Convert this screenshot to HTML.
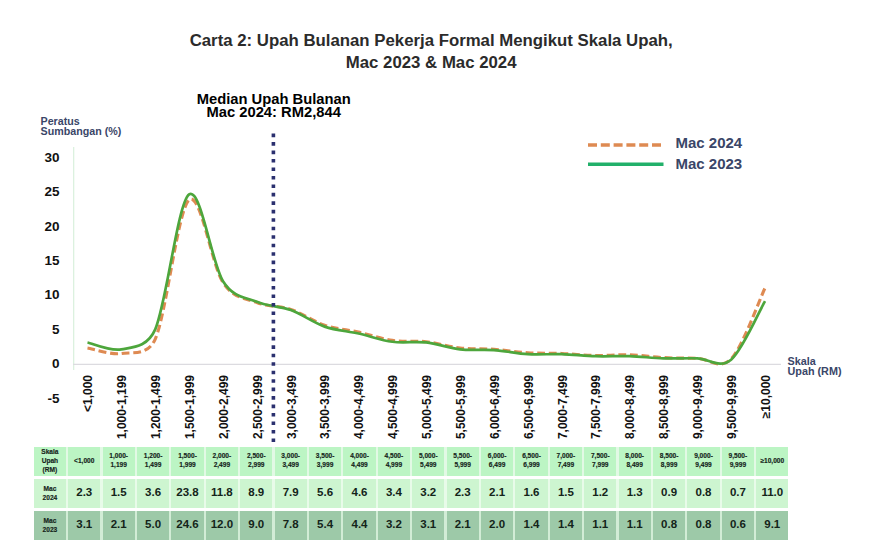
<!DOCTYPE html>
<html><head><meta charset="utf-8"><style>
html,body{margin:0;padding:0;background:#fff;}
body{width:871px;height:552px;position:relative;overflow:hidden;font-family:"Liberation Sans", sans-serif;}
.a{position:absolute;white-space:nowrap;}
.t{font-weight:bold;color:#2b2b2b;font-size:16.8px;line-height:22.2px;text-align:center;left:131.2px;width:600px;}
.med{font-weight:bold;color:#000;font-size:14.75px;line-height:13.8px;text-align:center;left:173.7px;width:200px;}
.nv{color:#3a4668;font-weight:bold;}
.yl{font-weight:bold;color:#111;font-size:13.5px;line-height:14px;text-align:right;width:40px;left:19.5px;}
.xl{font-size:12px;line-height:12px;font-weight:bold;color:#111;transform-origin:0 0;text-align:right;width:80px;}
.c{position:absolute;display:flex;padding-bottom:3.2px;box-sizing:border-box;align-items:center;justify-content:center;text-align:center;color:#14241a;font-weight:bold;}
.h{background:#bcf5c4;font-size:6.6px;line-height:9.1px;padding-bottom:2.4px;}
.r2{background:#cdf5d0;font-size:11.5px;}
.r3{background:#9dc9a8;font-size:11.5px;}
.lab{font-size:6.6px;line-height:9px;padding-bottom:1.4px;}
.h.lab{padding-bottom:1.6px;line-height:9.2px;}
.h,.lab{-webkit-text-stroke:0.15px #14241a;}
</style></head><body>

<div class="a t" style="top:29.8px;">Carta 2: Upah Bulanan Pekerja Formal Mengikut Skala Upah,<br>Mac 2023 &amp; Mac 2024</div>
<div class="a med" style="top:92.5px;">Median Upah Bulanan<br>Mac 2024: RM2,844</div>
<div class="a nv" style="left:40.5px;top:116.2px;font-size:10.7px;line-height:10.3px;">Peratus<br>Sumbangan (%)</div>
<div class="a yl" style="top:150.6px;">30</div>
<div class="a yl" style="top:185.0px;">25</div>
<div class="a yl" style="top:219.5px;">20</div>
<div class="a yl" style="top:253.9px;">15</div>
<div class="a yl" style="top:288.3px;">10</div>
<div class="a yl" style="top:322.8px;">5</div>
<div class="a yl" style="top:357.2px;">0</div>
<div class="a yl" style="top:391.6px;">-5</div>
<div class="a nv" style="left:787.5px;top:355.6px;font-size:10.8px;line-height:10.4px;">Skala<br>Upah (RM)</div>
<div class="a nv" style="left:675.5px;top:133px;font-size:15px;line-height:20.7px;">Mac 2024<br>Mac 2023</div>
<svg class="a" style="left:0;top:0" width="871" height="552" viewBox="0 0 871 552">
<line x1="73.7" y1="147" x2="73.7" y2="370" stroke="#d9f0dc" stroke-width="1.2"/>
<line x1="73" y1="364.4" x2="781" y2="364.4" stroke="#dcdbe0" stroke-width="1.4"/>
<path d="M87.50,347.96 C93.15,348.88 110.08,354.96 121.38,353.47 C132.67,351.98 147.82,355.86 155.25,339.01 C166.54,313.41 177.83,209.30 189.12,199.89 C200.42,190.48 211.71,265.43 223.00,282.53 C233.83,298.94 245.58,298.03 256.88,302.51 C268.17,306.98 279.46,305.60 290.75,309.39 C302.04,313.18 313.33,321.44 324.62,325.23 C335.92,329.02 347.21,329.59 358.50,332.12 C369.79,334.65 381.08,338.78 392.38,340.38 C403.67,341.99 414.96,340.50 426.25,341.76 C437.54,343.02 448.83,346.70 460.12,347.96 C471.42,349.22 482.71,348.53 494.00,349.34 C505.29,350.14 516.58,352.09 527.88,352.78 C539.17,353.47 550.46,353.01 561.75,353.47 C573.04,353.93 584.33,355.31 595.62,355.54 C606.92,355.77 618.21,354.50 629.50,354.85 C640.79,355.19 652.08,357.03 663.38,357.60 C674.67,358.18 685.96,358.06 697.25,358.29 C708.54,358.52 719.83,370.69 731.12,358.98 C742.42,347.27 759.35,299.87 765.00,288.04" fill="none" stroke="#de8a52" stroke-width="3.1" stroke-dasharray="7.8,3.8"/>
<path d="M87.50,342.45 C93.15,343.60 110.08,351.52 121.38,349.34 C132.67,347.16 147.37,347.38 155.25,329.37 C166.54,303.54 177.83,202.41 189.12,194.38 C200.42,186.34 211.71,263.25 223.00,281.16 C233.58,297.94 245.58,297.00 256.88,301.82 C268.17,306.64 279.46,305.95 290.75,310.08 C302.04,314.21 313.33,322.71 324.62,326.61 C335.92,330.51 347.21,330.97 358.50,333.50 C369.79,336.02 381.08,340.27 392.38,341.76 C403.67,343.25 414.96,341.19 426.25,342.45 C437.54,343.71 448.83,348.07 460.12,349.34 C471.42,350.60 482.71,349.22 494.00,350.03 C505.29,350.83 516.58,353.47 527.88,354.16 C539.17,354.85 550.46,353.81 561.75,354.16 C573.04,354.50 584.33,355.88 595.62,356.22 C606.92,356.57 618.21,355.88 629.50,356.22 C640.79,356.57 652.08,357.95 663.38,358.29 C674.67,358.63 685.96,358.06 697.25,358.29 C708.54,358.52 719.83,369.19 731.12,359.67 C742.42,350.14 759.35,310.88 765.00,301.13" fill="none" stroke="#4da63c" stroke-width="2.7"/>
<line x1="273.4" y1="133.6" x2="273.4" y2="442.2" stroke="#2b306f" stroke-width="3.6" stroke-dasharray="3.6,4.867"/>
<line x1="588" y1="145" x2="661" y2="145" stroke="#de8a52" stroke-width="3.6" stroke-dasharray="9,3.8"/>
<line x1="588" y1="164.3" x2="663.5" y2="164.3" stroke="#22b06a" stroke-width="3.4"/>
</svg>
<div class="a xl" style="left:82.3px;top:455.1px;transform:rotate(-90deg);">&lt;1,000</div>
<div class="a xl" style="left:116.2px;top:455.1px;transform:rotate(-90deg);">1,000-1,199</div>
<div class="a xl" style="left:150.1px;top:455.1px;transform:rotate(-90deg);">1,200-1,499</div>
<div class="a xl" style="left:183.9px;top:455.1px;transform:rotate(-90deg);">1,500-1,999</div>
<div class="a xl" style="left:217.8px;top:455.1px;transform:rotate(-90deg);">2,000-2,499</div>
<div class="a xl" style="left:251.7px;top:455.1px;transform:rotate(-90deg);">2,500-2,999</div>
<div class="a xl" style="left:285.6px;top:455.1px;transform:rotate(-90deg);">3,000-3,499</div>
<div class="a xl" style="left:319.4px;top:455.1px;transform:rotate(-90deg);">3,500-3,999</div>
<div class="a xl" style="left:353.3px;top:455.1px;transform:rotate(-90deg);">4,000-4,499</div>
<div class="a xl" style="left:387.2px;top:455.1px;transform:rotate(-90deg);">4,500-4,999</div>
<div class="a xl" style="left:421.1px;top:455.1px;transform:rotate(-90deg);">5,000-5,499</div>
<div class="a xl" style="left:454.9px;top:455.1px;transform:rotate(-90deg);">5,500-5,999</div>
<div class="a xl" style="left:488.8px;top:455.1px;transform:rotate(-90deg);">6,000-6,499</div>
<div class="a xl" style="left:522.7px;top:455.1px;transform:rotate(-90deg);">6,500-6,999</div>
<div class="a xl" style="left:556.5px;top:455.1px;transform:rotate(-90deg);">7,000-7,499</div>
<div class="a xl" style="left:590.4px;top:455.1px;transform:rotate(-90deg);">7,500-7,999</div>
<div class="a xl" style="left:624.3px;top:455.1px;transform:rotate(-90deg);">8,000-8,499</div>
<div class="a xl" style="left:658.2px;top:455.1px;transform:rotate(-90deg);">8,500-8,999</div>
<div class="a xl" style="left:692.0px;top:455.1px;transform:rotate(-90deg);">9,000-9,499</div>
<div class="a xl" style="left:725.9px;top:455.1px;transform:rotate(-90deg);">9,500-9,999</div>
<div class="a xl" style="left:759.8px;top:455.1px;transform:rotate(-90deg);">≥10,000</div>
<div class="a" style="left:66.0px;top:447.2px;width:690.2px;height:28.4px;background:#e2f9e5;"></div>
<div class="a" style="left:66.0px;top:478.5px;width:690.2px;height:29.7px;background:#e8fbe9;"></div>
<div class="a" style="left:66.0px;top:510.7px;width:690.2px;height:29.1px;background:#d2ecd6;"></div>
<div class="c h lab" style="left:33.8px;top:447.2px;width:32.2px;height:28.4px;">Skala<br>Upah<br>(RM)</div>
<div class="c h" style="left:68.2px;top:447.2px;width:32.2px;height:28.4px;">&lt;1,000</div>
<div class="c h" style="left:102.6px;top:447.2px;width:32.2px;height:28.4px;">1,000-<br>1,199</div>
<div class="c h" style="left:137.0px;top:447.2px;width:32.2px;height:28.4px;">1,200-<br>1,499</div>
<div class="c h" style="left:171.4px;top:447.2px;width:32.2px;height:28.4px;">1,500-<br>1,999</div>
<div class="c h" style="left:205.8px;top:447.2px;width:32.2px;height:28.4px;">2,000-<br>2,499</div>
<div class="c h" style="left:240.2px;top:447.2px;width:32.2px;height:28.4px;">2,500-<br>2,999</div>
<div class="c h" style="left:274.6px;top:447.2px;width:32.2px;height:28.4px;">3,000-<br>3,499</div>
<div class="c h" style="left:309.0px;top:447.2px;width:32.2px;height:28.4px;">3,500-<br>3,999</div>
<div class="c h" style="left:343.4px;top:447.2px;width:32.2px;height:28.4px;">4,000-<br>4,499</div>
<div class="c h" style="left:377.8px;top:447.2px;width:32.2px;height:28.4px;">4,500-<br>4,999</div>
<div class="c h" style="left:412.2px;top:447.2px;width:32.2px;height:28.4px;">5,000-<br>5,499</div>
<div class="c h" style="left:446.6px;top:447.2px;width:32.2px;height:28.4px;">5,500-<br>5,999</div>
<div class="c h" style="left:481.0px;top:447.2px;width:32.2px;height:28.4px;">6,000-<br>6,499</div>
<div class="c h" style="left:515.4px;top:447.2px;width:32.2px;height:28.4px;">6,500-<br>6,999</div>
<div class="c h" style="left:549.8px;top:447.2px;width:32.2px;height:28.4px;">7,000-<br>7,499</div>
<div class="c h" style="left:584.2px;top:447.2px;width:32.2px;height:28.4px;">7,500-<br>7,999</div>
<div class="c h" style="left:618.6px;top:447.2px;width:32.2px;height:28.4px;">8,000-<br>8,499</div>
<div class="c h" style="left:653.0px;top:447.2px;width:32.2px;height:28.4px;">8,500-<br>8,999</div>
<div class="c h" style="left:687.4px;top:447.2px;width:32.2px;height:28.4px;">9,000-<br>9,499</div>
<div class="c h" style="left:721.8px;top:447.2px;width:32.2px;height:28.4px;">9,500-<br>9,999</div>
<div class="c h" style="left:756.2px;top:447.2px;width:32.2px;height:28.4px;">≥10,000</div>
<div class="c r2 lab" style="left:33.8px;top:478.5px;width:32.2px;height:29.7px;">Mac<br>2024</div>
<div class="c r2" style="left:68.2px;top:478.5px;width:32.2px;height:29.7px;">2.3</div>
<div class="c r2" style="left:102.6px;top:478.5px;width:32.2px;height:29.7px;">1.5</div>
<div class="c r2" style="left:137.0px;top:478.5px;width:32.2px;height:29.7px;">3.6</div>
<div class="c r2" style="left:171.4px;top:478.5px;width:32.2px;height:29.7px;">23.8</div>
<div class="c r2" style="left:205.8px;top:478.5px;width:32.2px;height:29.7px;">11.8</div>
<div class="c r2" style="left:240.2px;top:478.5px;width:32.2px;height:29.7px;">8.9</div>
<div class="c r2" style="left:274.6px;top:478.5px;width:32.2px;height:29.7px;">7.9</div>
<div class="c r2" style="left:309.0px;top:478.5px;width:32.2px;height:29.7px;">5.6</div>
<div class="c r2" style="left:343.4px;top:478.5px;width:32.2px;height:29.7px;">4.6</div>
<div class="c r2" style="left:377.8px;top:478.5px;width:32.2px;height:29.7px;">3.4</div>
<div class="c r2" style="left:412.2px;top:478.5px;width:32.2px;height:29.7px;">3.2</div>
<div class="c r2" style="left:446.6px;top:478.5px;width:32.2px;height:29.7px;">2.3</div>
<div class="c r2" style="left:481.0px;top:478.5px;width:32.2px;height:29.7px;">2.1</div>
<div class="c r2" style="left:515.4px;top:478.5px;width:32.2px;height:29.7px;">1.6</div>
<div class="c r2" style="left:549.8px;top:478.5px;width:32.2px;height:29.7px;">1.5</div>
<div class="c r2" style="left:584.2px;top:478.5px;width:32.2px;height:29.7px;">1.2</div>
<div class="c r2" style="left:618.6px;top:478.5px;width:32.2px;height:29.7px;">1.3</div>
<div class="c r2" style="left:653.0px;top:478.5px;width:32.2px;height:29.7px;">0.9</div>
<div class="c r2" style="left:687.4px;top:478.5px;width:32.2px;height:29.7px;">0.8</div>
<div class="c r2" style="left:721.8px;top:478.5px;width:32.2px;height:29.7px;">0.7</div>
<div class="c r2" style="left:756.2px;top:478.5px;width:32.2px;height:29.7px;">11.0</div>
<div class="c r3 lab" style="left:33.8px;top:510.7px;width:32.2px;height:29.1px;">Mac<br>2023</div>
<div class="c r3" style="left:68.2px;top:510.7px;width:32.2px;height:29.1px;">3.1</div>
<div class="c r3" style="left:102.6px;top:510.7px;width:32.2px;height:29.1px;">2.1</div>
<div class="c r3" style="left:137.0px;top:510.7px;width:32.2px;height:29.1px;">5.0</div>
<div class="c r3" style="left:171.4px;top:510.7px;width:32.2px;height:29.1px;">24.6</div>
<div class="c r3" style="left:205.8px;top:510.7px;width:32.2px;height:29.1px;">12.0</div>
<div class="c r3" style="left:240.2px;top:510.7px;width:32.2px;height:29.1px;">9.0</div>
<div class="c r3" style="left:274.6px;top:510.7px;width:32.2px;height:29.1px;">7.8</div>
<div class="c r3" style="left:309.0px;top:510.7px;width:32.2px;height:29.1px;">5.4</div>
<div class="c r3" style="left:343.4px;top:510.7px;width:32.2px;height:29.1px;">4.4</div>
<div class="c r3" style="left:377.8px;top:510.7px;width:32.2px;height:29.1px;">3.2</div>
<div class="c r3" style="left:412.2px;top:510.7px;width:32.2px;height:29.1px;">3.1</div>
<div class="c r3" style="left:446.6px;top:510.7px;width:32.2px;height:29.1px;">2.1</div>
<div class="c r3" style="left:481.0px;top:510.7px;width:32.2px;height:29.1px;">2.0</div>
<div class="c r3" style="left:515.4px;top:510.7px;width:32.2px;height:29.1px;">1.4</div>
<div class="c r3" style="left:549.8px;top:510.7px;width:32.2px;height:29.1px;">1.4</div>
<div class="c r3" style="left:584.2px;top:510.7px;width:32.2px;height:29.1px;">1.1</div>
<div class="c r3" style="left:618.6px;top:510.7px;width:32.2px;height:29.1px;">1.1</div>
<div class="c r3" style="left:653.0px;top:510.7px;width:32.2px;height:29.1px;">0.8</div>
<div class="c r3" style="left:687.4px;top:510.7px;width:32.2px;height:29.1px;">0.8</div>
<div class="c r3" style="left:721.8px;top:510.7px;width:32.2px;height:29.1px;">0.6</div>
<div class="c r3" style="left:756.2px;top:510.7px;width:32.2px;height:29.1px;">9.1</div>
</body></html>
